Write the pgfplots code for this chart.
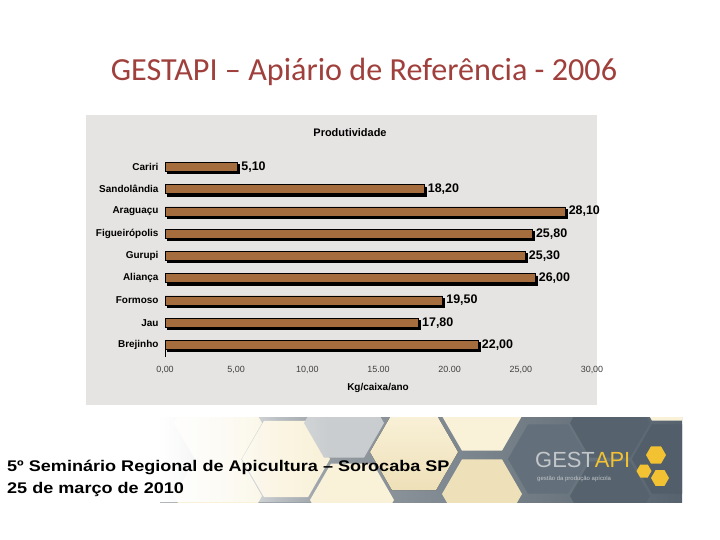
\documentclass[border=0pt]{standalone}
\usepackage{pgfplots}
\pgfplotsset{compat=1.18}
\usepackage{fontspec}
\setmainfont{Liberation Sans}
\newfontfamily\calibri{Carlito}
\newfontfamily\wideb[FakeStretch=1.17]{Liberation Sans Bold}
\usetikzlibrary{shadows,fadings}
\definecolor{titlered}{HTML}{A0403C}
\definecolor{panelgray}{HTML}{E6E4E2}
\definecolor{slate}{HTML}{56636E}
\definecolor{midgray}{HTML}{B2B7BB}
\definecolor{cream}{HTML}{F9F1D8}
\definecolor{creamdark}{HTML}{EEE0B8}
\definecolor{honey}{HTML}{F2C232}
\definecolor{logogray}{HTML}{C3C7CA}
\definecolor{barfill}{HTML}{A56C3E}
\tikzfading[name=fade right, left color=transparent!0, right color=transparent!100]
\newcommand{\hex}[4]{\fill[#4] (#1bp,-#2bp) +(0:#3bp) -- +(60:#3bp) -- +(120:#3bp) -- +(180:#3bp) -- +(240:#3bp) -- +(300:#3bp) -- cycle;}
\begin{document}
\begin{tikzpicture}
\path[fill=white] (0bp,0bp) rectangle (720bp,-540bp);
% slide title
\node[font=\calibri\fontsize{32.3}{36}\selectfont, text=titlered, anchor=base, inner sep=0pt] at (364bp,-80bp) {GESTAPI – Apiário de Referência - 2006};
% chart panel
\fill[panelgray] (86bp,-115bp) rectangle (597bp,-405bp);
\node[font=\bfseries\fontsize{11}{13}\selectfont, anchor=base, inner sep=0pt] at (350bp,-136bp) {Produtividade};
\node[font=\bfseries\fontsize{10}{12}\selectfont, anchor=base, inner sep=0pt] at (378bp,-390bp) {Kg/caixa/ano};
\begin{axis}[
  at={(165bp,-357.2bp)}, anchor=south west,
  scale only axis, width=427bp, height=203.6bp,
  xmin=0, xmax=30, ymin=-0.55, ymax=8.6,
  axis line style={draw=none},
  major tick style={draw=none},
  xtick={0,5,10,15,20,25,30},
  xticklabels={{0,00},{5,00},{10,00},{15.00},{20.00},{25,00},{30,00}},
  ytick={0,1,2,3,4,5,6,7,8},
  yticklabels={Brejinho,Jau,Formoso,Aliança,Gurupi,Figueirópolis,Araguaçu,Sandolândia,Cariri},
  xticklabel style={font=\fontsize{9}{11}\selectfont, text=black!75, yshift=-6bp},
  yticklabel style={font=\bfseries\fontsize{10}{12}\selectfont, xshift=-3bp},
  /pgf/number format/assume math mode=true,
  clip=false,
]
\addplot[xbar, bar width=9bp, draw=black, line width=0.6bp, fill=barfill,
  drop shadow={shadow xshift=2.2bp, shadow yshift=-2.2bp, fill=black, opacity=1}]
  coordinates {(22,0) (17.8,1) (19.5,2) (26,3) (25.3,4) (25.8,5) (28.1,6) (18.2,7) (5.1,8)};
\addplot[draw=none, mark=none, point meta=x,
  nodes near coords={\pgfmathprintnumber[fixed,fixed zerofill,precision=2,use comma]{\pgfplotspointmeta}},
  every node near coord/.append style={anchor=west, font=\bfseries\fontsize{12.5}{14}\selectfont, text=black, inner sep=1bp, xshift=2.6bp}]
  coordinates {(22,0) (17.8,1) (19.5,2) (26,3) (25.3,4) (25.8,5) (28.1,6) (18.2,7) (5.1,8)};
\draw[black, line width=0.5bp] (axis cs:0,-0.55) -- ++(0,-3bp);
\end{axis}
% banner
\begin{scope}
\clip (160bp,-417bp) rectangle (682bp,-502bp);
\fill[left color=midgray, right color=slate] (160bp,-417bp) rectangle (682bp,-502bp);
\hex{218}{423}{44}{cream}
\hex{218}{496}{44}{cream}
\hex{286}{459}{44}{cream}
\hex{344}{423}{40}{midgray!70!white}
\hex{352}{500}{42}{cream}
\hex{414}{452}{44}{top color=cream, bottom color=creamdark}
\hex{482}{416}{40}{cream}
\hex{482}{494}{40}{creamdark}
\hex{548}{459}{40}{slate!92!white}
\hex{610}{423}{40}{slate}
\hex{610}{496}{40}{slate}
\hex{672}{459}{40}{slate!95!black}
\hex{672}{386}{40}{cream}
\hex{734}{496}{40}{cream}
\fill[white, path fading=fade right] (160bp,-417bp) rectangle (330bp,-502bp);
\fill[white, opacity=0.6, path fading=fade right] (160bp,-417bp) rectangle (280bp,-502bp);
\end{scope}
% logo
\node[font=\fontsize{22}{24}\selectfont, anchor=base west, inner sep=0pt] at (535bp,-467bp) {\textcolor{logogray}{GEST}\textcolor{honey}{API}};
\node[font=\fontsize{6}{7}\selectfont, text=logogray, anchor=base west, inner sep=0pt] at (537bp,-480bp) {gestão da produção apícola};
\hex{656}{455}{10}{honey}
\hex{644}{471}{7.5}{honey}
\hex{660}{478}{9}{honey}
% footer text
\node[font=\wideb\fontsize{15.5}{18}\selectfont, anchor=base west, inner sep=0pt] at (7bp,-471bp) {5º Seminário Regional de Apicultura – Sorocaba SP};
\node[font=\wideb\fontsize{15.5}{18}\selectfont, anchor=base west, inner sep=0pt] at (7bp,-493bp) {25 de março de 2010};
\end{tikzpicture}
\end{document}
